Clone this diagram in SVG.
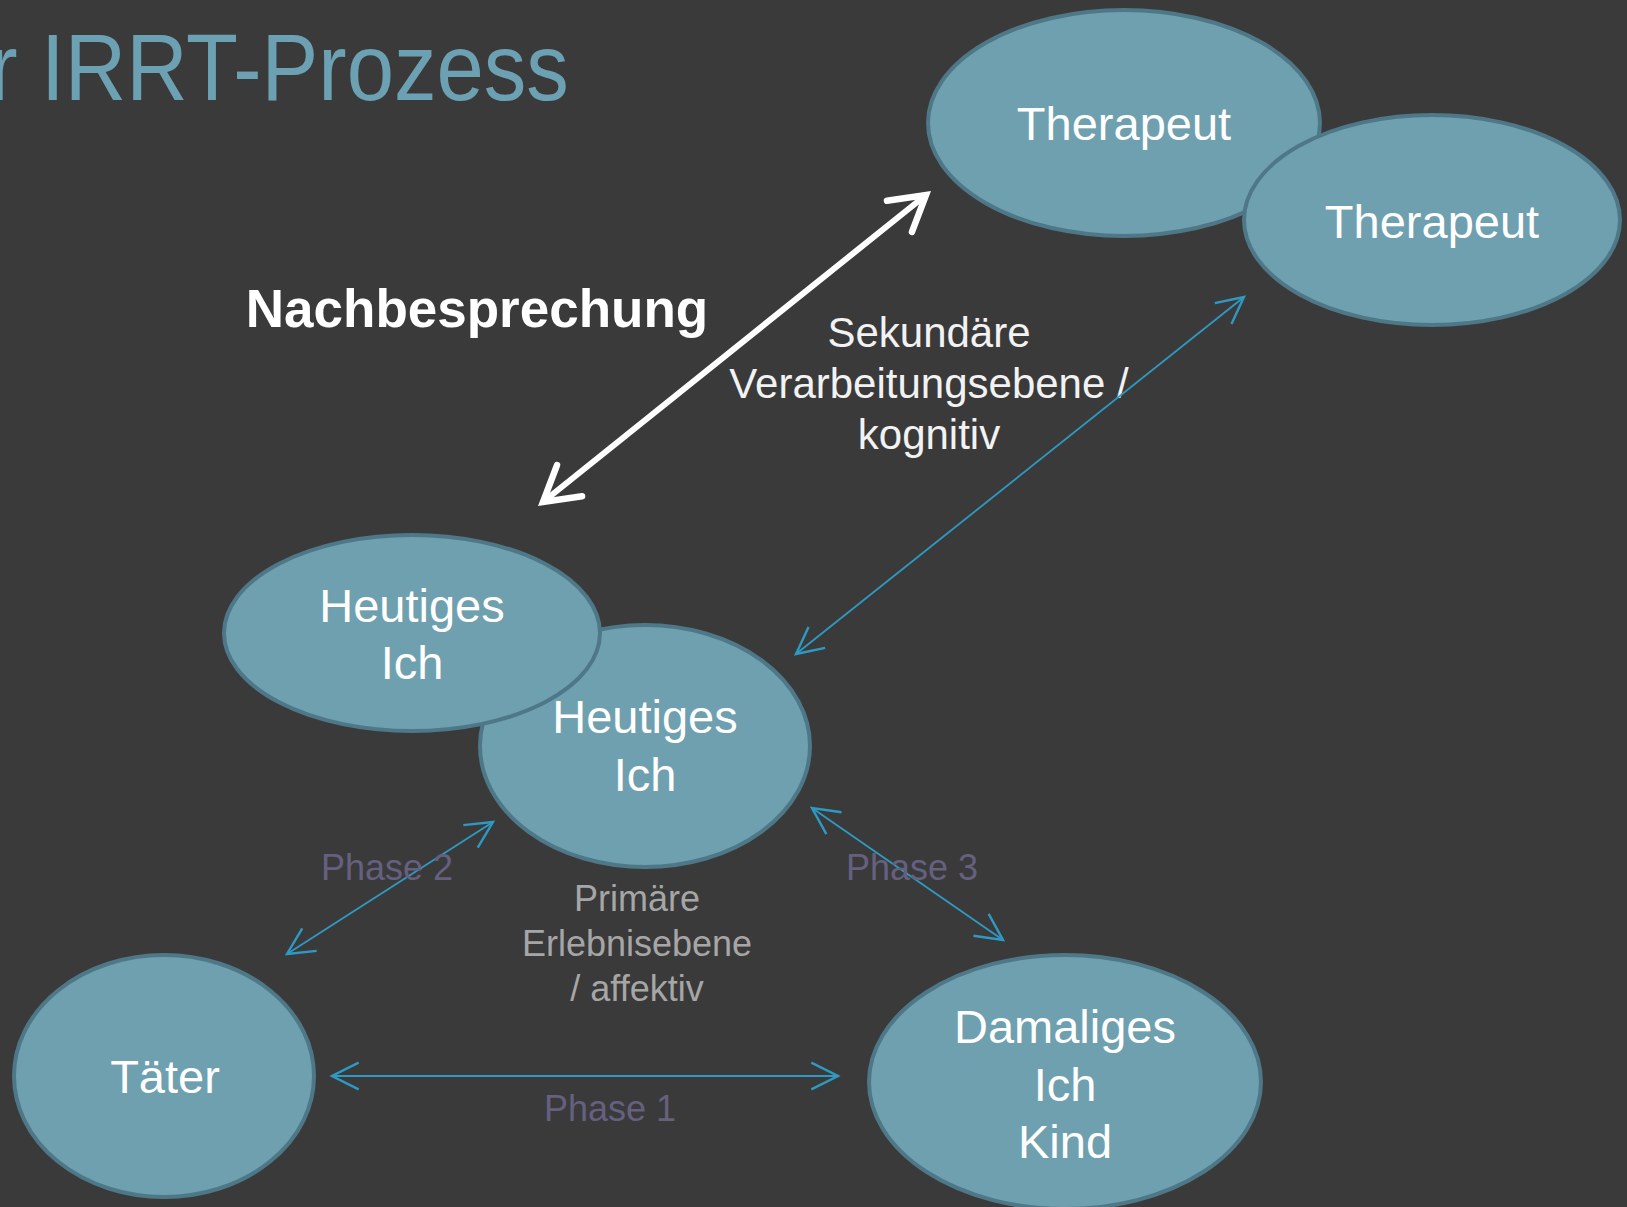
<svg xmlns="http://www.w3.org/2000/svg" width="1627" height="1207" viewBox="0 0 1627 1207">
<style>
.bg{fill:#3a3a3a}
.node ellipse{fill:#6fa0af;stroke:#4e7887;stroke-width:4}
.node text{font-family:"Liberation Sans",Arial,sans-serif;font-size:47px;fill:#ffffff;text-anchor:middle}
.title{font-family:"Liberation Sans",Arial,sans-serif;font-size:94px;fill:#6ca1b3}
.bold{font-family:"Liberation Sans",Arial,sans-serif;font-size:53px;font-weight:bold;fill:#ffffff;text-anchor:middle}
.sec{font-family:"Liberation Sans",Arial,sans-serif;font-size:42px;fill:#f2f2f2;text-anchor:middle}
.prim{font-family:"Liberation Sans",Arial,sans-serif;font-size:36px;fill:#a6a6a6;text-anchor:middle}
.phase{font-family:"Liberation Sans",Arial,sans-serif;font-size:36px;fill:#65607f;text-anchor:middle}
.white{stroke:#ffffff;stroke-width:6;fill:none}
.blue{stroke:#2e9ac4;stroke-width:1.8;fill:none}
</style>
<defs>
<marker id="wa" markerUnits="userSpaceOnUse" markerWidth="60" markerHeight="60" refX="0" refY="0" viewBox="-40 -30 50 60" orient="auto-start-reverse">
<path d="M-34,-20 L0,0 L-34,20" fill="none" stroke="#ffffff" stroke-width="6.5" stroke-linecap="round" stroke-linejoin="miter"/>
</marker>
<marker id="ba" markerUnits="userSpaceOnUse" markerWidth="40" markerHeight="40" refX="0" refY="0" viewBox="-25 -15 30 30" orient="auto-start-reverse">
<path d="M-20,-10 L0,0 L-20,10" fill="none" stroke="#2e9ac4" stroke-width="1.8"/>
</marker>
</defs>
<rect class="bg" x="0" y="0" width="1627" height="1207"/>
<text class="title" transform="scale(0.905,1)" x="-12" y="100">r IRRT-Prozess</text>
<text class="bold" x="477" y="327">Nachbesprechung</text>
<text class="sec"><tspan x="929" y="347">Sekundäre</tspan><tspan x="929" y="398">Verarbeitungsebene /</tspan><tspan x="929" y="449">kognitiv</tspan></text>
<text class="prim"><tspan x="637" y="911">Primäre</tspan><tspan x="637" y="956">Erlebnisebene</tspan><tspan x="637" y="1001">/ affektiv</tspan></text>
<g id="therapeut1" class="node"><ellipse cx="1124" cy="123" rx="196" ry="113"/><text x="1124" y="140">Therapeut</text></g>
<g id="therapeut2" class="node"><ellipse cx="1432" cy="220" rx="188" ry="105"/><text x="1432" y="238">Therapeut</text></g>
<g id="heutiges2" class="node"><ellipse cx="645" cy="746" rx="165" ry="121"/><text x="645" y="733">Heutiges</text><text x="645" y="791">Ich</text></g>
<g id="heutiges1" class="node"><ellipse cx="412" cy="633" rx="188" ry="98"/><text x="412" y="622">Heutiges</text><text x="412" y="679">Ich</text></g>
<g id="taeter" class="node"><ellipse cx="164" cy="1076" rx="150" ry="121"/><text x="165" y="1093">Täter</text></g>
<g id="damaliges" class="node"><ellipse cx="1065" cy="1082" rx="196" ry="127"/><text x="1065" y="1043">Damaliges</text><text x="1065" y="1101">Ich</text><text x="1065" y="1158">Kind</text></g>
<g id="connectors">
<line class="white" x1="543" y1="502" x2="926" y2="195" marker-start="url(#wa)" marker-end="url(#wa)"/>
<line class="blue" x1="796" y1="654" x2="1244" y2="297" marker-start="url(#ba)" marker-end="url(#ba)"/>
<line class="blue" x1="287" y1="954" x2="493" y2="822" marker-start="url(#ba)" marker-end="url(#ba)"/>
<line class="blue" x1="812" y1="808" x2="1003" y2="940" marker-start="url(#ba)" marker-end="url(#ba)"/>
<line class="blue" x1="332" y1="1076" x2="838" y2="1076" stroke-width="2.2" marker-start="url(#ba)" marker-end="url(#ba)"/>
</g>
<text class="phase" x="387" y="880">Phase 2</text>
<text class="phase" x="912" y="880">Phase 3</text>
<text class="phase" x="610" y="1121">Phase 1</text>
</svg>
